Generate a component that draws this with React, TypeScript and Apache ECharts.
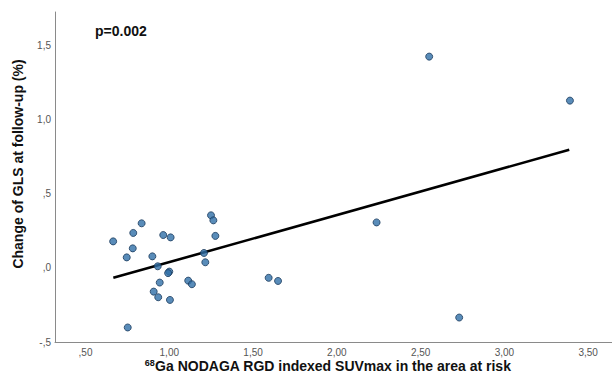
import React, { useEffect, useRef } from "react";
import * as echarts from "echarts";

// Indexed SUVmax (x) and change of GLS at follow-up (y), one entry per patient
const suvMax = [
  0.665, 0.785, 0.835, 0.782, 0.746, 0.964, 1.008, 0.899, 0.931, 1.0, 0.993,
  0.943, 0.907, 0.934, 1.004, 1.113, 1.135, 0.752, 1.249, 1.263, 1.275, 1.207,
  1.215, 1.593, 1.649, 2.237, 2.73, 2.551, 3.391,
];
const glsChange = [
  0.179, 0.236, 0.301, 0.132, 0.071, 0.222, 0.206, 0.078, 0.011, -0.025,
  -0.035, -0.099, -0.16, -0.198, -0.216, -0.086, -0.11, -0.402, 0.355, 0.321,
  0.216, 0.101, 0.038, -0.067, -0.088, 0.307, -0.335, 1.426, 1.129,
];

// Linear fit line, drawn between its two end points
const fitX = [0.666, 3.387];
const fitY = [-0.067, 0.797];

// Axis ticks and their labels (decimal comma style)
const xTicks = [0.5, 1, 1.5, 2, 2.5, 3, 3.5];
const xTickLabels = [",50", "1,00", "1,50", "2,00", "2,50", "3,00", "3,50"];
const yTicks = [-0.5, 0, 0.5, 1, 1.5];
const yTickLabels = ["-,5", ",0", ",5", "1,0", "1,5"];

const pLabel = "p=0.002";
const xTitleSup = "68";
const xTitleMain = "Ga NODAGA RGD indexed SUVmax in the area at risk";
const yTitle = "Change of GLS at follow-up (%)";

const FONT = "'Liberation Sans', Arial, sans-serif";

function labelFor(ticks: number[], labels: string[], v: number): string {
  const i = ticks.findIndex((t) => Math.abs(t - v) < 1e-6);
  return i >= 0 ? labels[i] : "";
}

export default function App() {
  const ref = useRef<HTMLDivElement>(null);

  useEffect(() => {
    if (!ref.current) return;
    const chart = echarts.init(ref.current, undefined, { renderer: "svg" });

    const points = suvMax.map((x, i) => [x, glsChange[i]]);
    const fitLine = fitX.map((x, i) => [x, fitY[i]]);

    chart.setOption({
      animation: false,
      backgroundColor: "#ffffff",
      grid: { left: 55, right: 0, top: 12, bottom: 41, containLabel: false },
      xAxis: {
        type: "value",
        min: 0.318,
        max: 3.642,
        axisLine: {
          show: true,
          onZero: false,
          lineStyle: { color: "#8a8a8a", width: 1 },
        },
        axisTick: { show: false },
        splitLine: { show: false },
        axisLabel: {
          customValues: xTicks,
          formatter: (v: number) => labelFor(xTicks, xTickLabels, v),
          color: "#555555",
          fontFamily: FONT,
          fontSize: 10,
          margin: 5,
        },
      },
      yAxis: {
        type: "value",
        min: -0.5,
        max: 1.727,
        axisLine: {
          show: true,
          onZero: false,
          lineStyle: { color: "#8a8a8a", width: 1 },
        },
        axisTick: { show: false },
        splitLine: { show: false },
        axisLabel: {
          customValues: yTicks,
          formatter: (v: number) => labelFor(yTicks, yTickLabels, v),
          color: "#555555",
          fontFamily: FONT,
          fontSize: 10,
          margin: 4,
        },
      },
      series: [
        {
          type: "line",
          data: fitLine,
          symbol: "none",
          lineStyle: { color: "#000000", width: 2.6 },
          z: 2,
        },
        {
          type: "scatter",
          data: points,
          symbol: "circle",
          symbolSize: 7,
          itemStyle: {
            color: "#2f6fa8",
            borderColor: "#1c3b5c",
            borderWidth: 1,
          },
          z: 3,
        },
      ],
      graphic: [
        {
          type: "text",
          left: 95,
          top: 24,
          style: {
            text: pLabel,
            fontFamily: FONT,
            fontWeight: "bold",
            fontSize: 14,
            fill: "#111111",
          },
        },
        {
          type: "text",
          x: 328,
          y: 366,
          style: {
            text: `{sup|${xTitleSup}}{main|${xTitleMain}}`,
            align: "center",
            verticalAlign: "middle",
            rich: {
              sup: {
                fontFamily: FONT,
                fontWeight: "bold",
                fontSize: 9,
                fill: "#111111",
                padding: [0, 0, 7, 0],
              },
              main: {
                fontFamily: FONT,
                fontWeight: "bold",
                fontSize: 14,
                fill: "#111111",
              },
            },
          },
        },
        {
          type: "text",
          x: 18,
          y: 164,
          rotation: Math.PI / 2,
          style: {
            text: yTitle,
            align: "center",
            verticalAlign: "middle",
            fontFamily: FONT,
            fontWeight: "bold",
            fontSize: 14,
            fill: "#111111",
          },
        },
      ],
    });

    return () => chart.dispose();
  }, []);

  return (
    <div
      ref={ref}
      style={{ position: "fixed", left: 0, top: 0, width: 612, height: 383 }}
    />
  );
}
